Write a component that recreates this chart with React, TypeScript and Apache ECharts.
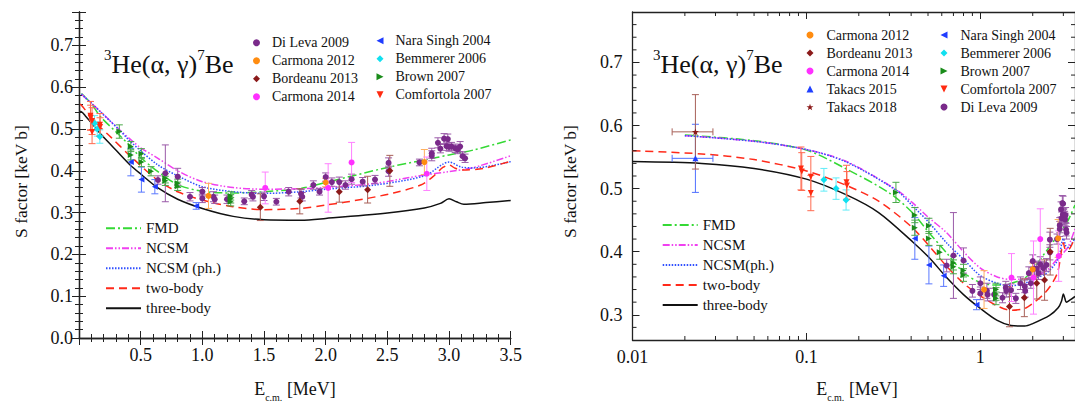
import { useEffect, useRef } from 'react';
import * as echarts from 'echarts';

// ---------------- theory curves (E in MeV, S in keV b) ----------------
const fmdE = [0.02, 0.05, 0.1, 0.17, 0.3, 0.41, 0.5, 0.64, 0.8, 1.0, 1.25, 1.5, 1.8, 2.0, 2.5, 2.9, 3.0, 3.2, 3.5];
const fmdS = [0.585, 0.576, 0.561, 0.531, 0.493, 0.461, 0.432, 0.398, 0.367, 0.351, 0.347, 0.350, 0.358, 0.372, 0.408, 0.432, 0.438, 0.450, 0.474];

const ncsmE = [0.02, 0.05, 0.1, 0.17, 0.33, 0.41, 0.5, 0.64, 0.8, 1.0, 1.25, 1.5, 1.8, 2.0, 2.4, 2.8, 3.0, 3.2, 3.5];
const ncsmS = [0.584, 0.575, 0.562, 0.543, 0.498, 0.477, 0.455, 0.430, 0.400, 0.374, 0.360, 0.356, 0.357, 0.360, 0.370, 0.390, 0.398, 0.408, 0.436];

const ncsmPhE = [0.02, 0.05, 0.1, 0.17, 0.33, 0.41, 0.5, 0.64, 0.8, 1.0, 1.25, 1.5, 1.8, 2.0, 2.4, 2.8, 2.95, 3.0, 3.1, 3.2, 3.5];
const ncsmPhS = [0.584, 0.575, 0.562, 0.542, 0.497, 0.472, 0.448, 0.414, 0.388, 0.362, 0.350, 0.346, 0.350, 0.356, 0.366, 0.388, 0.416, 0.421, 0.409, 0.407, 0.422];

const twoBodyE = [0.01, 0.025, 0.05, 0.1, 0.17, 0.26, 0.41, 0.64, 0.8, 1.0, 1.25, 1.5, 1.8, 2.0, 2.3, 2.55, 2.77, 2.87, 2.95, 3.0, 3.05, 3.11, 3.28, 3.5];
const twoBodyS = [0.560, 0.555, 0.546, 0.528, 0.505, 0.480, 0.437, 0.377, 0.350, 0.330, 0.314, 0.307, 0.310, 0.318, 0.332, 0.347, 0.366, 0.386, 0.408, 0.414, 0.406, 0.402, 0.406, 0.423];

const threeBodyE = [0.01, 0.025, 0.05, 0.1, 0.17, 0.26, 0.41, 0.51, 0.64, 0.8, 1.0, 1.25, 1.5, 1.8, 2.0, 2.5, 2.8, 2.93, 3.0, 3.06, 3.12, 3.3, 3.5];
const threeBodyS = [0.543, 0.540, 0.532, 0.515, 0.490, 0.462, 0.415, 0.390, 0.359, 0.332, 0.310, 0.291, 0.283, 0.282, 0.286, 0.299, 0.311, 0.322, 0.333, 0.326, 0.320, 0.324, 0.329];

// ---------------- experimental data ----------------
const diLevaE = [0.64, 0.70, 0.80, 0.90, 1.00, 1.00, 1.09, 1.10, 1.20, 1.34, 1.40, 1.41, 1.50, 1.60, 1.70, 1.80, 1.81, 1.90, 1.95, 2.00, 2.05, 2.11, 2.16, 2.21, 2.30, 2.40, 2.51, 2.51, 2.76, 2.86, 2.86, 2.91, 2.93, 2.96, 2.98, 2.99, 3.00, 3.02, 3.05, 3.07, 3.09, 3.11, 3.13];
const diLevaS = [0.378, 0.394, 0.386, 0.338, 0.350, 0.334, 0.338, 0.332, 0.332, 0.327, 0.343, 0.338, 0.339, 0.326, 0.350, 0.345, 0.338, 0.366, 0.350, 0.385, 0.373, 0.373, 0.366, 0.380, 0.374, 0.379, 0.419, 0.399, 0.420, 0.442, 0.436, 0.467, 0.453, 0.477, 0.459, 0.476, 0.457, 0.458, 0.454, 0.451, 0.458, 0.435, 0.430];
const diLevaErr = [0.010, 0.068, 0.020, 0.010, 0.010, 0.010, 0.012, 0.010, 0.010, 0.008, 0.010, 0.010, 0.010, 0.008, 0.010, 0.010, 0.010, 0.010, 0.008, 0.010, 0.010, 0.012, 0.010, 0.012, 0.010, 0.010, 0.012, 0.012, 0.008, 0.012, 0.012, 0.012, 0.010, 0.012, 0.010, 0.012, 0.010, 0.010, 0.010, 0.010, 0.012, 0.010, 0.010];

const carmona12E = [1.05, 2.0, 2.8];
const carmona12S = [0.340, 0.372, 0.421];
const carmona12Err = [0.030, 0.010, 0.030];

const bordeanuE = [1.47, 1.79, 2.11, 2.34, 2.52];
const bordeanuS = [0.313, 0.327, 0.350, 0.355, 0.400];
const bordeanuErr = [0.032, 0.030, 0.025, 0.032, 0.037];

const carmona14E = [1.51, 2.02, 2.21, 2.82];
const carmona14S = [0.359, 0.359, 0.420, 0.393];
const carmona14Err = [0.038, 0.058, 0.048, 0.040];

const naraE = [0.42, 0.506, 0.615, 0.95];
const naraS = [0.421, 0.379, 0.362, 0.316];
const naraErr = [0.033, 0.030, 0.017, 0.008];

const bemmererE = [0.126, 0.148, 0.169];
const bemmererS = [0.514, 0.500, 0.482];
const bemmererErr = [0.018, 0.017, 0.016];

const brownE = [0.327, 0.42, 0.42, 0.506, 0.506, 0.584, 0.70, 0.70, 0.80, 0.80, 1.23, 1.23, 1.23];
const brownS = [0.494, 0.458, 0.438, 0.441, 0.421, 0.399, 0.382, 0.376, 0.370, 0.363, 0.340, 0.333, 0.326];
const brownErr = [0.016, 0.012, 0.012, 0.012, 0.011, 0.011, 0.011, 0.011, 0.010, 0.010, 0.010, 0.010, 0.010];

const comfortolaE = [0.093, 0.094, 0.106, 0.106, 0.170, 0.171];
const comfortolaS = [0.532, 0.527, 0.519, 0.493, 0.510, 0.505];
const comfortolaErr = [0.034, 0.030, 0.032, 0.028, 0.027, 0.022];

const takacs15E = [0.023];
const takacs15S = [0.548];
const takacs15Err = [0.054];
const takacs15ELo = [0.0169];
const takacs15EHi = [0.029];

const takacs18E = [0.023];
const takacs18S = [0.590];
const takacs18Err = [0.059];
const takacs18ELo = [0.0169];
const takacs18EHi = [0.029];

// ---------------- axes ----------------
const leftXRange = [0, 3.5];
const leftYRange = [0, 0.78];
const rightXRange = [0.01, 3.5];
const rightYRange = [0.26, 0.78];
const logMinorTicks = [0.02, 0.03, 0.04, 0.05, 0.06, 0.07, 0.08, 0.09, 0.2, 0.3, 0.4, 0.5, 0.6, 0.7, 0.8, 0.9, 2, 3];
const rightYMinorTicks = [0.28, 0.32, 0.34, 0.36, 0.38, 0.42, 0.44, 0.46, 0.48, 0.52, 0.54, 0.56, 0.58, 0.62, 0.64, 0.66, 0.68, 0.72, 0.74, 0.76];

const leftDataLegend1 = ['Di Leva 2009', 'Carmona 2012', 'Bordeanu 2013', 'Carmona 2014'];
const leftDataLegend2 = ['Nara Singh 2004', 'Bemmerer 2006', 'Brown 2007', 'Comfortola 2007'];
const rightDataLegend1 = ['Carmona 2012', 'Bordeanu 2013', 'Carmona 2014', 'Takacs 2015', 'Takacs 2018'];
const rightDataLegend2 = ['Nara Singh 2004', 'Bemmerer 2006', 'Brown 2007', 'Comfortola 2007', 'Di Leva 2009'];
const leftLineLegend = ['FMD', 'NCSM', 'NCSM (ph.)', 'two-body', 'three-body'];
const rightLineLegend = ['FMD', 'NCSM', 'NCSM(ph.)', 'two-body', 'three-body'];

const FONT = "'Liberation Serif', 'Times New Roman', Times, serif";
const STAR = 'path://M0,-10 L2.35,-3.24 L9.51,-3.09 L3.8,1.24 L5.88,8.09 L0,4 L-5.88,8.09 L-3.8,1.24 L-9.51,-3.09 L-2.35,-3.24 Z';
const TRI_UP = 'path://M5,0 L10,10 L0,10 Z';
const TRI_LEFT = 'path://M0,5 L10,0 L10,10 Z';
const TRI_RIGHT = 'path://M0,0 L10,5 L0,10 Z';
const TRI_DOWN = 'path://M0,0 L10,0 L5,10 Z';

const curves = [
  { left: 'FMD', right: 'FMD', E: fmdE, S: fmdS, color: '#35d935', type: [9, 3, 2, 3] },
  { left: 'NCSM', right: 'NCSM', E: ncsmE, S: ncsmS, color: '#f040f0', type: [7, 2, 1.5, 2, 1.5, 2] },
  { left: 'NCSM (ph.)', right: 'NCSM(ph.)', E: ncsmPhE, S: ncsmPhS, color: '#3050ff', type: [1.5, 1.5] },
  { left: 'two-body', right: 'two-body', E: twoBodyE, S: twoBodyS, color: '#ff2a1a', type: [8, 5] },
  { left: 'three-body', right: 'three-body', E: threeBodyE, S: threeBodyS, color: '#111111', type: 'solid' },
];

const datasets: any[] = [
  { name: 'Di Leva 2009', E: diLevaE, S: diLevaS, err: diLevaErr, color: '#7a2a8a', errColor: '#9a5aa8', symbol: 'circle', size: 6, panels: [0, 1] },
  { name: 'Carmona 2012', E: carmona12E, S: carmona12S, err: carmona12Err, color: '#ff8c10', errColor: '#ffb060', symbol: 'circle', size: 6, panels: [0, 1] },
  { name: 'Bordeanu 2013', E: bordeanuE, S: bordeanuS, err: bordeanuErr, color: '#8b1a1a', errColor: '#a86058', symbol: 'diamond', size: 7, panels: [0, 1] },
  { name: 'Carmona 2014', E: carmona14E, S: carmona14S, err: carmona14Err, color: '#ff30ff', errColor: '#ff80ff', symbol: 'circle', size: 6, panels: [0, 1] },
  { name: 'Takacs 2015', E: takacs15E, S: takacs15S, err: takacs15Err, eLo: takacs15ELo, eHi: takacs15EHi, color: '#2040ff', errColor: '#5070ff', symbol: TRI_UP, size: 6, panels: [1] },
  { name: 'Takacs 2018', E: takacs18E, S: takacs18S, err: takacs18Err, eLo: takacs18ELo, eHi: takacs18EHi, color: '#8b1a1a', errColor: '#a86058', symbol: STAR, size: 7, panels: [1] },
  { name: 'Nara Singh 2004', E: naraE, S: naraS, err: naraErr, color: '#1f3cff', errColor: '#5a78ff', symbol: TRI_LEFT, size: 6, panels: [0, 1] },
  { name: 'Bemmerer 2006', E: bemmererE, S: bemmererS, err: bemmererErr, color: '#10e0f0', errColor: '#60ecf8', symbol: 'diamond', size: 7, panels: [0, 1] },
  { name: 'Brown 2007', E: brownE, S: brownS, err: brownErr, color: '#1a8c1a', errColor: '#4aa84a', symbol: TRI_RIGHT, size: 6, panels: [0, 1] },
  { name: 'Comfortola 2007', E: comfortolaE, S: comfortolaS, err: comfortolaErr, color: '#ff2a10', errColor: '#ff6a50', symbol: TRI_DOWN, size: 6, panels: [0, 1] },
];

function errBarSeries(ds: any, xi: number, yi: number) {
  const data = ds.E.map((e: number, i: number) => [
    e, ds.S[i], ds.S[i] - ds.err[i], ds.S[i] + ds.err[i],
    ds.eLo ? ds.eLo[i] : e, ds.eHi ? ds.eHi[i] : e,
  ]);
  return {
    type: 'custom', name: ds.name + ' err', xAxisIndex: xi, yAxisIndex: yi, silent: true, z: 4,
    data,
    renderItem: (_p: any, api: any) => {
      const x = api.value(0), y = api.value(1), lo = api.value(2), hi = api.value(3);
      const xl = api.value(4), xh = api.value(5);
      const a = api.coord([x, lo]);
      const b = api.coord([x, hi]);
      const st = { stroke: ds.errColor, lineWidth: 1 };
      const w = 3.5;
      const ch: any[] = [
        { type: 'line', shape: { x1: a[0], y1: a[1], x2: b[0], y2: b[1] }, style: st },
        { type: 'line', shape: { x1: a[0] - w, y1: a[1], x2: a[0] + w, y2: a[1] }, style: st },
        { type: 'line', shape: { x1: b[0] - w, y1: b[1], x2: b[0] + w, y2: b[1] }, style: st },
      ];
      if (xl !== x || xh !== x) {
        const c = api.coord([xl, y]);
        const d = api.coord([xh, y]);
        ch.push(
          { type: 'line', shape: { x1: c[0], y1: c[1], x2: d[0], y2: d[1] }, style: st },
          { type: 'line', shape: { x1: c[0], y1: c[1] - w, x2: c[0], y2: c[1] + w }, style: st },
          { type: 'line', shape: { x1: d[0], y1: d[1] - w, x2: d[0], y2: d[1] + w }, style: st },
        );
      }
      return { type: 'group', children: ch };
    },
  };
}

function panelSeries(p: number) {
  const xi = p * 2, yi = p * 2;
  const out: any[] = [];
  curves.forEach((c) => {
    out.push({
      type: 'line', name: p === 0 ? c.left : c.right, xAxisIndex: xi, yAxisIndex: yi,
      data: c.E.map((e, i) => [e, c.S[i]]), symbol: 'none', smooth: 0.3, z: 3,
      lineStyle: { color: c.color, width: 1.5, type: c.type }, itemStyle: { color: c.color },
    });
  });
  datasets.filter((d) => d.panels.includes(p)).forEach((d) => {
    out.push(errBarSeries(d, xi, yi));
    out.push({
      type: 'scatter', name: d.name, xAxisIndex: xi, yAxisIndex: yi, z: 5,
      data: d.E.map((e: number, i: number) => [e, d.S[i]]),
      symbol: d.symbol, symbolSize: d.size, symbolKeepAspect: true,
      itemStyle: { color: d.color, opacity: 1 },
    });
  });
  return out;
}

const axisLineStyle = { show: true, lineStyle: { color: '#222', width: 1.3 } };
const tickLabel = { fontFamily: FONT, fontSize: 18, color: '#111' };

function dataLegend(data: string[], left: number, top: number, pad: number) {
  return {
    data, left, top, orient: 'vertical', itemWidth: 7, itemHeight: 7, itemGap: 0, padding: 0,
    selectedMode: false,
    textStyle: { fontFamily: FONT, fontSize: 14, lineHeight: 18, color: '#111', padding: [0, 0, 0, pad] },
  };
}
function lineLegend(data: string[], left: number, top: number) {
  return {
    data, left, top, orient: 'vertical', itemWidth: 35, itemHeight: 10, itemGap: 0, padding: 0,
    selectedMode: false,
    itemStyle: { opacity: 0, borderWidth: 0 },
    textStyle: { fontFamily: FONT, fontSize: 15, lineHeight: 20, color: '#111' },
  };
}

function titleText(x: number, y: number) {
  return {
    type: 'text', x, y, silent: true,
    style: {
      text: '{sup|3}{m|He(α, γ)}{sup|7}{m|Be}',
      rich: {
        m: { fontFamily: FONT, fontSize: 26, lineHeight: 30, verticalAlign: 'bottom', fill: '#111' },
        sup: { fontFamily: FONT, fontSize: 15, lineHeight: 15, verticalAlign: 'top', fill: '#111' },
      },
    },
  };
}
function xName(x: number, y: number) {
  return {
    type: 'text', x, y, silent: true,
    style: {
      text: '{m|E}{s|c.m.}{m| [MeV]}', align: 'center', verticalAlign: 'top',
      rich: {
        m: { fontFamily: FONT, fontSize: 18, lineHeight: 20, verticalAlign: 'top', fill: '#111' },
        s: { fontFamily: FONT, fontSize: 10, lineHeight: 22, verticalAlign: 'bottom', fill: '#111' },
      },
    },
  };
}
function yName(x: number, y: number) {
  return {
    type: 'text', x, y, rotation: Math.PI / 2, silent: true,
    style: { text: 'S factor [keV b]', fontFamily: FONT, fontSize: 17.5, fill: '#111', align: 'center', verticalAlign: 'middle' },
  };
}

function buildOption() {
  const fmt1 = (v: number) => v.toFixed(1);
  const fmtLog = (v: number) => (v >= 1 ? v.toFixed(0) : String(+v.toPrecision(3)));
  const minorTickSeries = {
    type: 'custom', name: 'minor ticks', xAxisIndex: 2, yAxisIndex: 2, silent: true, z: 6,
    data: logMinorTicks.map((v) => [v, 0]),
    renderItem: (_p: any, api: any) => {
      const v = api.value(0);
      const b = api.coord([v, rightYRange[0]]);
      const t = api.coord([v, rightYRange[1]]);
      const st = { stroke: '#222', lineWidth: 1 };
      return {
        type: 'group', children: [
          { type: 'line', shape: { x1: b[0], y1: b[1], x2: b[0], y2: b[1] - 4 }, style: st },
          { type: 'line', shape: { x1: t[0], y1: t[1], x2: t[0], y2: t[1] + 4 }, style: st },
        ],
      };
    },
  };
  const minorYSeries = {
    type: 'custom', name: 'minor y ticks', xAxisIndex: 2, yAxisIndex: 2, silent: true, z: 6,
    data: rightYMinorTicks.map((v) => [1, v]),
    renderItem: (_p: any, api: any) => {
      const v = api.value(1);
      const l = api.coord([rightXRange[0], v]);
      const r = api.coord([rightXRange[1], v]);
      const st = { stroke: '#222', lineWidth: 1 };
      return {
        type: 'group', children: [
          { type: 'line', shape: { x1: l[0], y1: l[1], x2: l[0] + 4, y2: l[1] }, style: st },
          { type: 'line', shape: { x1: r[0], y1: r[1], x2: r[0] - 4, y2: r[1] }, style: st },
        ],
      };
    },
  };

  return {
    animation: false,
    backgroundColor: '#ffffff',
    textStyle: { fontFamily: FONT },
    grid: [
      { left: 79, top: 12, right: 564.3, bottom: 65, show: false },
      { left: 632.5, top: 12, right: -6, bottom: 63, show: false },
    ],
    xAxis: [
      {
        type: 'value', gridIndex: 0, position: 'bottom', min: leftXRange[0], max: leftXRange[1], interval: 0.5,
        axisLine: axisLineStyle, splitLine: { show: false },
        axisTick: { show: true, inside: true, length: 7, lineStyle: { color: '#222' } },
        minorTick: { show: true, splitNumber: 5, length: 4, lineStyle: { color: '#222' } },
        axisLabel: { ...tickLabel, margin: 8, formatter: fmt1, showMinLabel: false },
      },
      {
        type: 'value', gridIndex: 0, position: 'top', min: leftXRange[0], max: leftXRange[1], interval: 0.5,
        axisLine: axisLineStyle, splitLine: { show: false },
        axisTick: { show: true, inside: true, length: 7, lineStyle: { color: '#222' } },
        minorTick: { show: true, splitNumber: 5, length: 4, lineStyle: { color: '#222' } },
        axisLabel: { show: false },
      },
      {
        type: 'log', logBase: 10, gridIndex: 1, position: 'bottom', min: rightXRange[0], max: rightXRange[1],
        axisLine: axisLineStyle, splitLine: { show: false },
        axisTick: { show: true, inside: true, length: 7, lineStyle: { color: '#222' } },
        axisLabel: { ...tickLabel, margin: 8, formatter: fmtLog, showMaxLabel: false },
      },
      {
        type: 'log', logBase: 10, gridIndex: 1, position: 'top', min: rightXRange[0], max: rightXRange[1],
        axisLine: axisLineStyle, splitLine: { show: false },
        axisTick: { show: true, inside: true, length: 7, lineStyle: { color: '#222' } },
        axisLabel: { show: false },
      },
    ],
    yAxis: [
      {
        type: 'value', gridIndex: 0, position: 'left', min: leftYRange[0], max: leftYRange[1], interval: 0.1,
        axisLine: axisLineStyle, splitLine: { show: false },
        axisTick: { show: true, inside: true, length: 7, lineStyle: { color: '#222' } },
        minorTick: { show: true, splitNumber: 5, length: 4, lineStyle: { color: '#222' } },
        axisLabel: { ...tickLabel, margin: 6, formatter: fmt1, showMaxLabel: false },
      },
      {
        type: 'value', gridIndex: 0, position: 'right', min: leftYRange[0], max: leftYRange[1], interval: 0.1,
        axisLine: axisLineStyle, splitLine: { show: false },
        axisTick: { show: true, inside: true, length: 7, lineStyle: { color: '#222' } },
        minorTick: { show: true, splitNumber: 5, length: 4, lineStyle: { color: '#222' } },
        axisLabel: { show: false },
      },
      {
        type: 'value', gridIndex: 1, position: 'left', min: rightYRange[0], max: rightYRange[1], splitNumber: 5,
        axisLine: axisLineStyle, splitLine: { show: false },
        axisTick: { show: true, inside: true, length: 7, lineStyle: { color: '#222' } },
        axisLabel: { ...tickLabel, margin: 10, formatter: fmt1, showMinLabel: false, showMaxLabel: false },
      },
      {
        type: 'value', gridIndex: 1, position: 'right', min: rightYRange[0], max: rightYRange[1], splitNumber: 5,
        axisLine: axisLineStyle, splitLine: { show: false },
        axisTick: { show: true, inside: true, length: 7, lineStyle: { color: '#222' } },
        axisLabel: { show: false },
      },
    ],
    legend: [
      dataLegend(leftDataLegend1, 253, 33.7, 7),
      dataLegend(leftDataLegend2, 376.5, 31.7, 7),
      dataLegend(rightDataLegend1, 806.5, 26, 8),
      dataLegend(rightDataLegend2, 940.5, 26, 8),
      lineLegend(leftLineLegend, 105, 218.3),
      lineLegend(rightLineLegend, 661.7, 215),
    ],
    graphic: [
      titleText(104, 47),
      titleText(653, 47),
      xName(295, 380),
      xName(857, 380),
      yName(20.5, 181.5),
      yName(570, 181.5),
    ],
    series: [...panelSeries(0), ...panelSeries(1), minorTickSeries, minorYSeries],
  };
}

export default function App() {
  const ref = useRef<HTMLDivElement>(null);
  useEffect(() => {
    if (!ref.current) return;
    const chart = echarts.init(ref.current, undefined, { renderer: 'svg' });
    chart.setOption(buildOption() as any);
    return () => chart.dispose();
  }, []);
  return (
    <div
      ref={ref}
      style={{ position: 'fixed', left: 0, top: 0, width: 1075, height: 403, background: '#fff' }}
    />
  );
}
